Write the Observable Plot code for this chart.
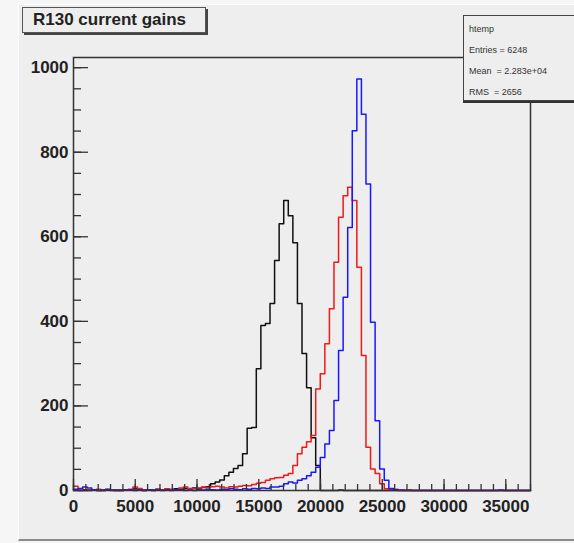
<!DOCTYPE html>
<html><head><meta charset="utf-8">
<script src="https://cdn.jsdelivr.net/npm/d3@7"></script>
<script src="https://cdn.jsdelivr.net/npm/@observablehq/plot@0.6"></script>
<style>
html,body{margin:0;padding:0;width:574px;height:543px;overflow:hidden;background:#f6f6f6;font-family:"Liberation Sans",Arial,sans-serif;}
#pad{position:absolute;left:18px;top:4px;width:570px;height:534px;background:#eeeeee;border-bottom:2px solid #8c8c8c;border-left:1px solid #fcfcfc;border-top:1px solid #fcfcfc;}
#chart{position:absolute;left:0;top:0;}
#title{position:absolute;left:22px;top:7px;width:184px;height:26px;box-sizing:border-box;background:#eeeeee;border:1px solid #555;box-shadow:2px 2px 0 #444;font-weight:bold;font-size:17px;line-height:24px;padding-left:10px;color:#222;white-space:nowrap;}
#stats{position:absolute;left:463px;top:15px;width:140px;height:86px;box-sizing:border-box;background:#eeeeee;border:1px solid #444;box-shadow:0 2px 0 #333;font-size:9px;line-height:21px;padding-top:3px;padding-left:5px;color:#333;white-space:pre;}
</style>
</head><body>
<div id="pad"></div>
<div id="chart"></div>
<div id="title">R130 current gains</div>
<div id="stats"></div>
<script>
// Histogram binning: 100 bins from 0 to 37000
const binStart = 0;
const binWidth = 370;

// Series counts per bin (bin 0 .. bin 99)
const blackCounts = [
  1,0,2,0,1,0,0,3,1,0,
  0,2,1,4,1,0,2,1,3,2,
  3,2,4,3,5,4,6,5,7,9,
  16,20,25,35,43,52,59,87,147,149,
  288,390,395,442,544,631,686,650,586,442,
  324,243,125,59,0,0,0,0,1,0,
  0,0,0,0,0,0,0,0,0,0,
  0,0,0,0,0,0,0,0,0,0,
  0,0,0,0,0,0,0,0,0,0,
  0,0,0,0,0,0,0,0,0,0
];
const redCounts = [
  10,4,0,2,1,3,0,2,1,0,
  2,1,3,8,5,2,1,0,3,2,
  4,3,2,6,8,5,4,6,8,7,
  9,10,8,6,9,8,10,12,11,14,
  17,19,24,28,30,31,36,40,59,87,
  102,115,130,240,276,347,430,540,646,697,
  717,686,528,319,102,51,40,16,4,2,
  3,0,1,2,0,0,0,0,0,0,
  0,0,0,0,0,0,0,0,0,0,
  0,0,0,0,0,0,0,0,0,0
];
const blueCounts = [
  3,5,8,6,2,0,1,2,0,1,
  0,1,2,0,1,0,2,0,1,0,
  1,0,2,1,0,1,0,2,1,3,
  2,1,3,2,4,3,2,4,3,5,
  4,6,5,8,8,10,16,20,18,24,
  28,35,43,55,78,110,142,213,331,457,
  622,851,973,890,725,398,165,51,24,5,
  2,1,0,0,0,0,0,0,0,0,
  0,0,0,0,0,0,0,0,0,0,
  0,0,0,1,0,0,0,0,0,0
];

const xMajorTicks = [0, 5000, 10000, 15000, 20000, 25000, 30000, 35000];
const yMajorTicks = [0, 200, 400, 600, 800, 1000];
const xMinorStep = 1000;
const yMinorStep = 50;

const statsLines = ["htemp", "Entries = 6248", "Mean  = 2.283e+04", "RMS  = 2656"];
document.getElementById("stats").textContent = statsLines.join("\n");

function steps(counts) {
  const pts = counts.map((c, i) => ({x: binStart + i * binWidth, c}));
  pts.push({x: binStart + counts.length * binWidth, c: counts[counts.length - 1]});
  return pts;
}

const W = 574, H = 543;
const mL = 73, mR = 44, mT = 57, mB = 53;
const fw = W - mL - mR, fh = H - mT - mB;

const xMinor = d3.range(0, 37001, xMinorStep);
const yMinor = d3.range(0, 1001, yMinorStep);

const axisFont = {fontSize: 17, fontWeight: "bold", fontFamily: "Liberation Sans, Arial, sans-serif", fill: "#222"};

const chart = Plot.plot({
  width: W, height: H,
  marginLeft: mL, marginRight: mR, marginTop: mT, marginBottom: mB,
  style: {background: "transparent", overflow: "visible"},
  x: {domain: [0, 37000], label: null},
  y: {domain: [0, 1024], label: null},
  marks: [
    Plot.line(steps(blackCounts), {x: "x", y: "c", curve: "step-after", stroke: "#111", strokeWidth: 1.5}),
    Plot.line(steps(redCounts), {x: "x", y: "c", curve: "step-after", stroke: "#f01818", strokeWidth: 1.5}),
    Plot.line(steps(blueCounts), {x: "x", y: "c", curve: "step-after", stroke: "#1818ff", strokeWidth: 1.5}),
    Plot.tickY(yMinor, {y: d => d, insetRight: fw - 8, stroke: "#333", strokeWidth: 1.3}),
    Plot.tickY(yMajorTicks, {y: d => d, insetRight: fw - 15, stroke: "#333", strokeWidth: 1.3}),
    Plot.tickX(xMinor, {x: d => d, insetTop: fh - 6, stroke: "#333", strokeWidth: 1.3}),
    Plot.tickX(xMajorTicks, {x: d => d, insetTop: fh - 11, stroke: "#333", strokeWidth: 1.3}),
    Plot.frame({stroke: "#333", strokeWidth: 1.5}),
    Plot.axisY({ticks: yMajorTicks, tickSize: 0, tickPadding: 5, tickFormat: d => String(d), label: null, ...axisFont}),
    Plot.axisX({ticks: xMajorTicks, tickSize: 0, tickPadding: 9, tickFormat: d => String(d), label: null, ...axisFont})
  ]
});
document.getElementById("chart").appendChild(chart);
</script>
</body></html>
